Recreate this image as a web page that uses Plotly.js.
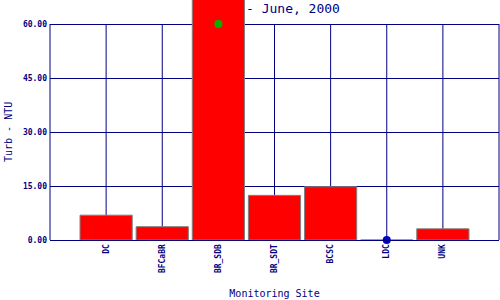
<!DOCTYPE html>
<html>
<head>
<meta charset="utf-8">
<script src="https://cdn.plot.ly/plotly-3.0.1.min.js"></script>
<style>html,body{margin:0;padding:0;background:#fff}#chart{width:500px;height:300px}</style>
</head>
<body>
<div id="chart"></div>
<script>
// Data
const sites = ["DC", "BFCaBR", "BR_SDB", "BR_SDT", "BCSC", "LDC", "UNK"];
const turbValues = [6.9, 3.7, 75, 12.4, 14.8, 0, 3.1];
const greenSites = ["BR_SDB"];
const greenValues = [60];
const blueSites = ["LDC"];
const blueValues = [0];
const yTickVals = [0, 15, 30, 45, 60];
const yTickText = yTickVals.map(v => v.toFixed(2));
const titleText = "- June, 2000";
const yTitle = "Turb - NTU";
const xTitle = "Monitoring Site";

const navy = "#000080";
const mono = "DejaVu Sans Mono, monospace";
const yTop = yTickVals[yTickVals.length - 1];

const traces = [
  {
    type: "bar", x: sites, y: turbValues, width: 0.93,
    marker: {color: "#ff0000", line: {color: "#808080", width: 1}},
    hoverinfo: "x+y"
  },
  {
    type: "scatter", mode: "markers", x: greenSites, y: greenValues,
    marker: {color: "#00b400", size: 8, symbol: "circle"}, cliponaxis: false
  },
  {
    type: "scatter", mode: "markers", x: blueSites, y: blueValues,
    marker: {color: "#0000c8", size: 8, symbol: "circle"}, cliponaxis: false
  }
];

const shapes = [];
sites.forEach(s => shapes.push({type: "line", xref: "x", yref: "y", x0: s, x1: s, y0: 0, y1: yTop, layer: "below", line: {color: navy, width: 1}}));
[0, 1].forEach(p => shapes.push({type: "line", xref: "paper", yref: "y", x0: p, x1: p, y0: 0, y1: yTop, layer: "below", line: {color: navy, width: 1}}));

const layout = {
  width: 500, height: 300,
  margin: {l: 50, r: 1, t: 0, b: 60, pad: 0},
  paper_bgcolor: "#ffffff", plot_bgcolor: "#ffffff",
  showlegend: false,
  title: {text: titleText, font: {family: mono, size: 13, color: navy}, x: 246/500, xanchor: "left", xref: "container", y: 0.973, yanchor: "middle", yref: "container"},
  xaxis: {
    type: "category", categoryorder: "array", categoryarray: sites,
    range: [-1, sites.length],
    showgrid: false, zeroline: false, showline: true, linecolor: navy, linewidth: 1,
    ticks: "", tickangle: -90,
    tickfont: {family: mono, size: 8, color: navy, weight: "bold"},
    title: {text: xTitle, font: {family: mono, size: 10, color: navy}, standoff: 17},
    fixedrange: true
  },
  yaxis: {
    range: [0, 240 / 3.6],
    tickvals: yTickVals, ticktext: yTickText,
    showgrid: true, gridcolor: navy, gridwidth: 1,
    zeroline: false, showline: false, ticks: "", ticklabelstandoff: 2,
    tickfont: {family: mono, size: 8, color: navy, weight: "bold"},
    fixedrange: true
  },
  shapes: shapes,
  annotations: [{
    text: yTitle, xref: "paper", yref: "y", x: -42/449, y: yTop / 2,
    xanchor: "center", yanchor: "middle", textangle: -90, showarrow: false,
    font: {family: mono, size: 10, color: navy}
  }]
};

Plotly.newPlot("chart", traces, layout, {displayModeBar: false, staticPlot: true});
</script>
</body>
</html>
